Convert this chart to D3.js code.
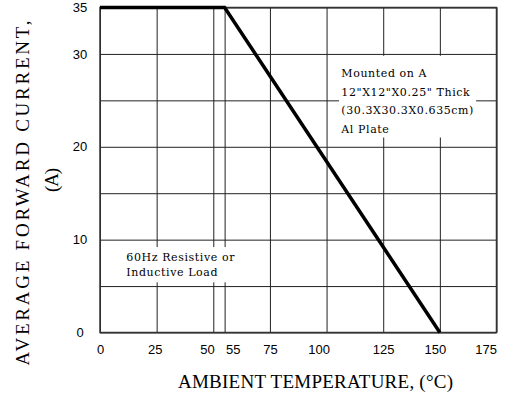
<!DOCTYPE html>
<html>
<head>
<meta charset="utf-8">
<script src="https://cdn.jsdelivr.net/npm/d3@7"></script>
<style>
    body { margin: 0; background: #fff; }
    .tick text { font-family: "Liberation Sans", Arial, sans-serif; font-size: 13px; fill: #000; }
    .grid .tick line { stroke: #222; stroke-width: 1; }
    .grid .domain { display: none; }
    .axis-title { font-family: "Liberation Serif", "DejaVu Serif", serif; font-size: 19px; fill: #000; }
    .note { font-family: "DejaVu Serif", serif; font-size: 11px; letter-spacing: 0.6px; fill: #000; }
</style>
</head>
<body>
<svg id="chart"></svg>
<script>
// chart data
const tempTicks = [0, 25, 50, 55, 75, 100, 125, 150, 175];
const currentGrid = [0, 5, 10, 15, 20, 25, 30, 35];
const currentLabels = [0, 10, 20, 30, 35];
const curveTemp = [0, 55, 150];
const curveCurrent = [35, 35, 0];
const plateNote = ['Mounted on A', '12"X12"X0.25" Thick', '(30.3X30.3X0.635cm)', 'Al Plate'];
const loadNote = ['60Hz Resistive or', 'Inductive Load'];

const config = {
    containerWidth: 506,
    containerHeight: 400,
    margin: {top: 7.5, right: 9.5, bottom: 67.5, left: 100}
};
const width = config.containerWidth - config.margin.left - config.margin.right;
const height = config.containerHeight - config.margin.top - config.margin.bottom;

const svg = d3.select('#chart')
    .attr('width', config.containerWidth)
    .attr('height', config.containerHeight);

const chart = svg.append('g')
    .attr('transform', `translate(${config.margin.left},${config.margin.top})`);

const xScale = d3.scaleLinear().domain([0, 175]).range([0, width]);
const yScale = d3.scaleLinear().domain([0, 35]).range([height, 0]);

// small label nudges so the crowded ones don't collide
const labelAnchor = d => d === 50 || d === 175 ? 'end' : d === 55 ? 'start' : 'middle';
const labelShift = d => d === 50 ? 1 : d === 55 ? 1 : d === 100 ? -8 : d === 150 ? -5 : d === 25 ? -2 : 0;

// vertical grid + x labels
chart.append('g')
    .attr('class', 'grid x-axis')
    .attr('transform', `translate(0,${height})`)
    .call(d3.axisBottom(xScale)
        .tickValues(tempTicks)
        .tickSize(-height)
        .tickPadding(12)
        .tickFormat(d3.format('d')))
    .call(g => g.selectAll('.tick text')
        .attr('text-anchor', labelAnchor)
        .attr('x', labelShift));

// horizontal grid + y labels
chart.append('g')
    .attr('class', 'grid y-axis')
    .call(d3.axisLeft(yScale)
        .tickValues(currentGrid)
        .tickSize(-width)
        .tickFormat(d => currentLabels.includes(d) ? d : ''))
    .call(g => g.selectAll('.tick text')
        .attr('text-anchor', 'middle')
        .attr('x', -20));

// plot frame
chart.append('rect')
    .attr('width', width)
    .attr('height', height)
    .attr('fill', 'none')
    .attr('stroke', '#333')
    .attr('stroke-width', 1.5);

// annotation boxes (white, hide the grid behind)
const noteBoxes = [
    {lines: plateNote, x0: 105.5, x1: 166, y0: 29.8, y1: 21, tx: 106.5, ty: 27.5, lh: 18.5},
    {lines: loadNote, x0: 2.2, x1: 72, y0: 9.2, y1: 5.4, tx: 11.6, ty: 7.7, lh: 15}
];
noteBoxes.forEach(b => {
    chart.append('rect')
        .attr('x', xScale(b.x0))
        .attr('y', yScale(b.y0))
        .attr('width', xScale(b.x1) - xScale(b.x0))
        .attr('height', yScale(b.y1) - yScale(b.y0))
        .attr('fill', '#fff');
    const t = chart.append('text')
        .attr('class', 'note')
        .attr('x', xScale(b.tx))
        .attr('y', yScale(b.ty));
    t.selectAll('tspan')
        .data(b.lines)
        .join('tspan')
        .attr('x', xScale(b.tx))
        .attr('dy', (d, i) => i === 0 ? 0 : b.lh)
        .text(d => d);
});

// derating curve
const line = d3.line()
    .x(d => xScale(d[0]))
    .y(d => yScale(d[1]));
chart.append('path')
    .datum(curveTemp.map((t, i) => [t, curveCurrent[i]]))
    .attr('d', line)
    .attr('fill', 'none')
    .attr('stroke', '#000')
    .attr('stroke-width', 3.5);

// axis titles
svg.append('text')
    .attr('class', 'axis-title')
    .attr('x', 315.5)
    .attr('y', 388)
    .attr('text-anchor', 'middle')
    .attr('textLength', 275)
    .attr('lengthAdjust', 'spacing')
    .text('AMBIENT TEMPERATURE, (°C)');

svg.append('text')
    .attr('class', 'axis-title')
    .attr('transform', 'translate(29,193) rotate(-90)')
    .attr('text-anchor', 'middle')
    .attr('textLength', 345)
    .attr('lengthAdjust', 'spacing')
    .text('AVERAGE FORWARD CURRENT,');

svg.append('text')
    .attr('class', 'axis-title')
    .attr('transform', 'translate(58,180) rotate(-90)')
    .attr('text-anchor', 'middle')
    .attr('textLength', 24)
    .attr('lengthAdjust', 'spacing')
    .text('(A)');
</script>
</body>
</html>
